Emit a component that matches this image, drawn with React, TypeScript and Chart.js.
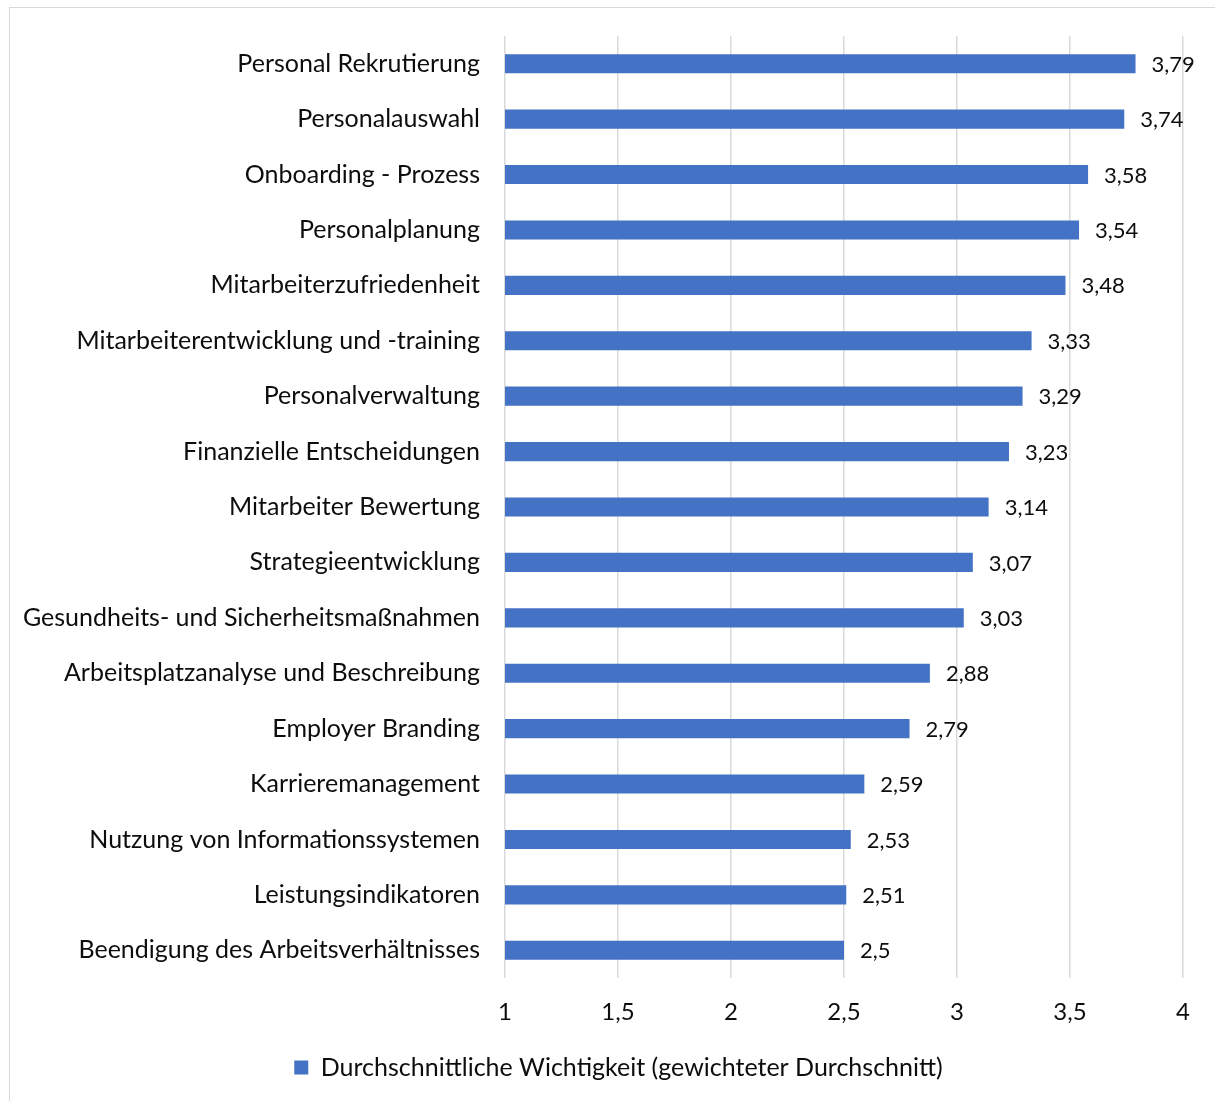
import React, { useEffect, useRef } from "react";
import { Chart, registerables } from "chart.js";

Chart.register(...registerables);

const categories = [
  "Personal Rekrutierung",
  "Personalauswahl",
  "Onboarding - Prozess",
  "Personalplanung",
  "Mitarbeiterzufriedenheit",
  "Mitarbeiterentwicklung und -training",
  "Personalverwaltung",
  "Finanzielle Entscheidungen",
  "Mitarbeiter Bewertung",
  "Strategieentwicklung",
  "Gesundheits- und Sicherheitsmaßnahmen",
  "Arbeitsplatzanalyse und Beschreibung",
  "Employer Branding",
  "Karrieremanagement",
  "Nutzung von Informationssystemen",
  "Leistungsindikatoren",
  "Beendigung des Arbeitsverhältnisses",
];

const values = [3.79, 3.74, 3.58, 3.54, 3.48, 3.33, 3.29, 3.23, 3.14, 3.07, 3.03, 2.88, 2.79, 2.59, 2.53, 2.51, 2.5];

const seriesLabel = "Durchschnittliche Wichtigkeit (gewichteter Durchschnitt)";
const xMin = 1;
const xMax = 4;
const xStep = 0.5;

const FONT = "Lato";
const TEXT = "#0d0d0d";
const BLUE = "#4472C4";

const fmt = (v: number) => String(v).replace(".", ",");

const framePlugin = {
  id: "frame",
  afterLayout(chart: any) {
    if (chart.legend) {
      chart.legend.left += 54;
    }
  },
  beforeDraw(chart: any) {
    const ctx = chart.ctx;
    ctx.save();
    ctx.fillStyle = "#ffffff";
    ctx.fillRect(0, 0, chart.width, chart.height);
    ctx.strokeStyle = "#d9d9d9";
    ctx.lineWidth = 1;
    ctx.strokeRect(9.5, 7.5, chart.width + 50, chart.height + 50);
    ctx.restore();
  },
};

const valueLabelPlugin = {
  id: "valueLabels",
  afterDatasetsDraw(chart: any) {
    const ctx = chart.ctx;
    const meta = chart.getDatasetMeta(0);
    const data = chart.data.datasets[0].data as number[];
    ctx.save();
    ctx.font = `22px ${FONT}`;
    ctx.fillStyle = TEXT;
    ctx.textAlign = "left";
    ctx.textBaseline = "middle";
    meta.data.forEach((el: any, i: number) => {
      ctx.fillText(fmt(data[i]), el.x + 16, el.y + 1);
    });
    ctx.restore();
  },
};

export default function App() {
  const ref = useRef<HTMLCanvasElement | null>(null);

  useEffect(() => {
    if (!ref.current) return;
    const chart = new Chart(ref.current, {
      type: "bar",
      data: {
        labels: categories,
        datasets: [
          {
            label: seriesLabel,
            data: values,
            backgroundColor: BLUE,
            borderWidth: 0,
            barPercentage: 0.345,
            categoryPercentage: 1,
          },
        ],
      },
      options: {
        indexAxis: "y",
        responsive: false,
        animation: false,
        layout: { padding: { top: 36, right: 32, bottom: 11, left: 0 } },
        plugins: {
          legend: {
            position: "bottom",
            labels: {
              font: { family: FONT, size: 25 },
              color: TEXT,
              boxWidth: 14,
              boxHeight: 14,
              padding: 10,
            },
          },
          tooltip: { enabled: false },
        },
        scales: {
          x: {
            min: xMin,
            max: xMax,
            ticks: {
              stepSize: xStep,
              callback: (v: any) => fmt(Number(v)),
              font: { family: FONT, size: 24 },
              color: TEXT,
              padding: 20,
            },
            grid: { color: "#d9d9d9", lineWidth: 1.5, drawTicks: false },
            border: { display: false },
            afterFit: (scale: any) => {
              scale.height = 67;
            },
          },
          y: {
            ticks: {
              font: { family: FONT, size: 25 },
              color: TEXT,
              padding: 25,
              autoSkip: false,
            },
            grid: { display: false, drawTicks: false },
            border: { display: false },
            afterFit: (scale: any) => {
              scale.width = 505;
              scale.paddingTop = 0;
              scale.paddingBottom = 0;
            },
          },
        },
      },
      plugins: [framePlugin, valueLabelPlugin],
    });
    return () => chart.destroy();
  }, []);

  return (
    <div style={{ position: "absolute", left: 0, top: 0, width: 1215, height: 1101 }}>
      <canvas ref={ref} width={1215} height={1101} />
    </div>
  );
}
